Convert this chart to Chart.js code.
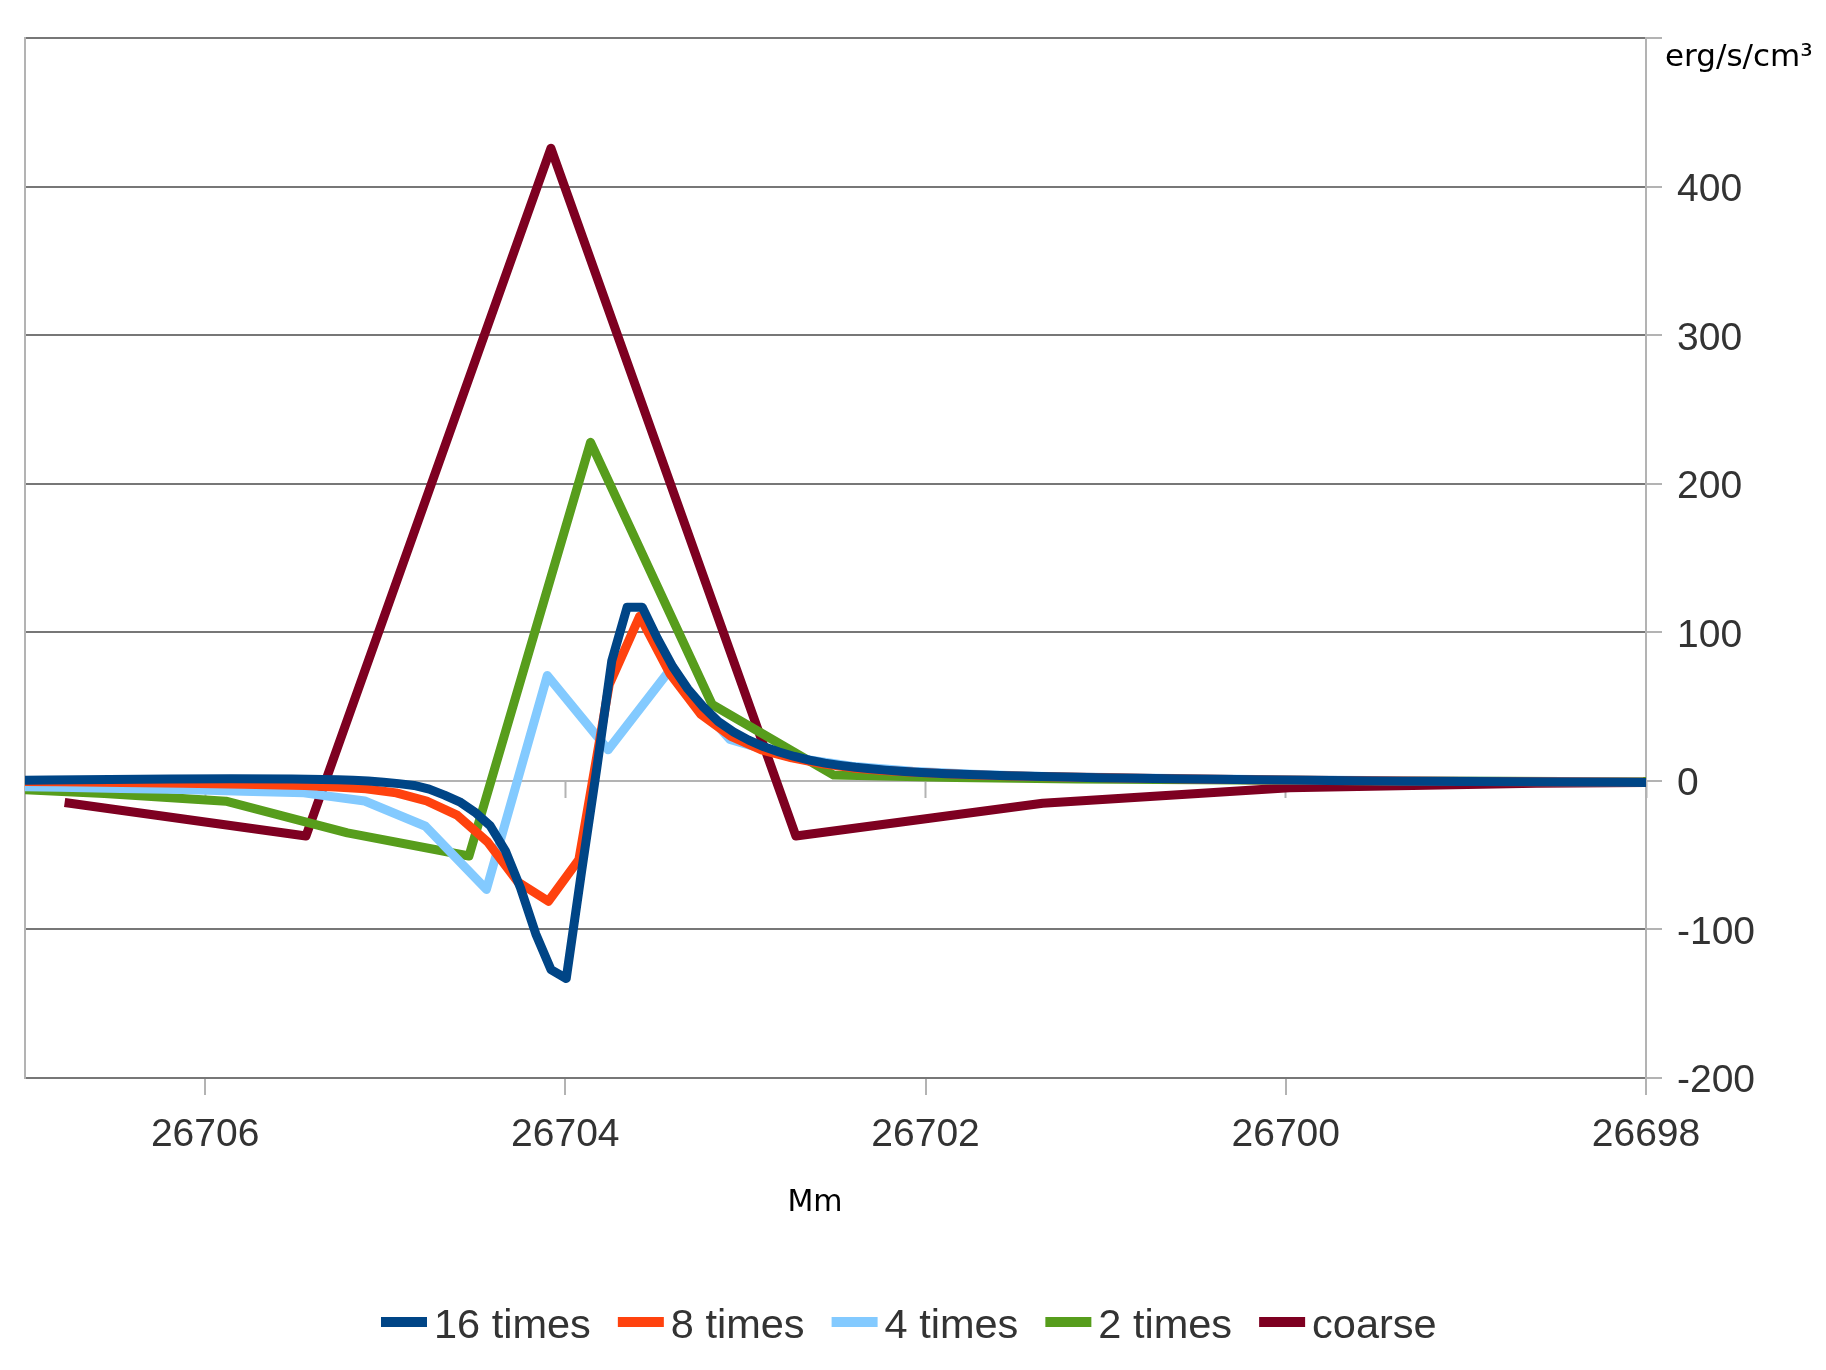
<!DOCTYPE html>
<html><head><meta charset="utf-8">
<script src="https://cdn.jsdelivr.net/npm/chart.js@4"></script>
<style>html,body{margin:0;padding:0;background:#fff}</style>
</head><body><canvas id="c" width="1826" height="1370"></canvas>
<script>
// ---- data ----
const seriesNames = ['16 times', '8 times', '4 times', '2 times', 'coarse'];
const seriesColors = ['#004586', '#ff420e', '#83caff', '#579d1c', '#7e0021'];

const x16 = [26707.037, 26706.868, 26706.53, 26706.192, 26705.854, 26705.516, 26705.263, 26705.178, 26705.094, 26705.009, 26704.925, 26704.840, 26704.756, 26704.671, 26704.587, 26704.502, 26704.418, 26704.333, 26704.249, 26704.164, 26704.080, 26703.995, 26703.910, 26703.826, 26703.742, 26703.657, 26703.573, 26703.489, 26703.404, 26703.320, 26703.235, 26703.151, 26703.066, 26702.982, 26702.897, 26702.813, 26702.728, 26702.644, 26702.559, 26702.475, 26702.390, 26702.306, 26702.221, 26702.137, 26702.052, 26701.968, 26701.883, 26701.545, 26701.038, 26700.531, 26700.024, 26699.348, 26698.672, 26698.165, 26697.996];
const y16 = [0.5, 0.6, 1.0, 1.3, 1.5, 1.3, 0.8, 0.5, 0.0, -0.8, -1.8, -3.0, -5.5, -9.5, -14, -21, -30, -47, -72, -103, -127, -133, -61, 8, 81, 117, 117, 96, 77, 62, 50, 40, 33, 27.5, 23, 19.5, 16.5, 14, 12, 10.5, 9.2, 8.2, 7.3, 6.5, 5.9, 5.3, 4.8, 3.5, 2.2, 1.3, 0.6, -0.2, -0.6, -0.9, -1.0];

const x8 = [26707.136, 26706.798, 26706.46, 26706.122, 26705.784, 26705.446, 26705.277, 26705.108, 26704.939, 26704.77, 26704.601, 26704.432, 26704.263, 26704.094, 26703.925, 26703.756, 26703.587, 26703.418, 26703.249, 26703.08, 26702.911, 26702.742, 26702.573, 26702.404, 26702.235, 26702.066, 26701.728, 26701.39, 26700.714, 26700.038, 26699.362, 26698.686, 26698.01];
const y8 = [-0.3, -0.6, -1.0, -1.5, -2.2, -3.0, -4.0, -5.3, -8, -13.5, -23, -41, -68, -81, -53, 65, 111, 72, 45, 30, 21, 15.5, 11.5, 8.8, 7, 5.8, 4, 3, 1.6, 0.7, 0, -0.5, -0.8];

const x4 = [26707.142, 26706.804, 26706.466, 26706.128, 26705.79, 26705.452, 26705.114, 26704.776, 26704.438, 26704.1, 26703.762, 26703.424, 26703.086, 26702.748, 26702.41, 26702.072, 26701.734, 26701.396, 26700.72, 26700.044, 26699.368, 26698.692, 26698.016];
const y4 = [-3.5, -4.3, -5, -5.8, -7, -8, -13.5, -30.5, -73, 71, 21, 74, 28, 16, 10, 6.5, 4.5, 3.2, 1.8, 0.8, 0.1, -0.4, -0.7];

const x2 = [26707.235, 26706.56, 26705.885, 26705.21, 26704.535, 26703.86, 26703.185, 26702.51, 26701.835, 26701.16, 26700.485, 26699.81, 26699.135, 26698.46, 26697.785];
const y2 = [-4.5, -8.5, -13.6, -35, -50.5, 228, 51.5, 4, 2.3, 1.4, 0.8, 0.3, 0, -0.3, -0.5];

const xc = [26706.78, 26705.44, 26704.08, 26702.72, 26701.35, 26699.98, 26698.61, 26697.24];
const yc = [-14.5, -37, 426, -37, -15, -4.5, -1.5, -0.5];

const xTickValues = [26706, 26704, 26702, 26700, 26698];
const yTickValues = [-200, -100, 0, 100, 200, 300, 400, 500];
const xTitle = 'Mm';
const yUnit = 'erg/s/cm³';

// ---- styling ----
const GRID = '#777777', AXIS = '#b3b3b3', TXT = '#333333';
const SANS = '"Liberation Sans", Arial, sans-serif';
const DEJA = '"DejaVu Sans", sans-serif';

const xsAll = [x16, x8, x4, x2, xc];
const ysAll = [y16, y8, y4, y2, yc];

const datasets = seriesNames.map((name, i) => ({
  label: name,
  data: xsAll[i].map((x, j) => ({ x: x, y: ysAll[i][j] })),
  showLine: true,
  borderColor: seriesColors[i],
  backgroundColor: seriesColors[i],
  borderWidth: 9,
  pointRadius: 0,
  pointHoverRadius: 0,
  borderJoinStyle: 'round',
  tension: 0
}));

const extras = {
  id: 'extras',
  afterDraw(chart) {
    const ctx = chart.ctx;
    ctx.save();
    ctx.fillStyle = '#000';
    ctx.font = '31px ' + DEJA;
    ctx.textBaseline = 'alphabetic';
    ctx.textAlign = 'left';
    ctx.fillText(yUnit, 1665, 66);
    ctx.font = '30px ' + DEJA;
    ctx.textAlign = 'center';
    ctx.fillText(xTitle, 815, 1211);
    // legend
    ctx.font = '41.5px ' + SANS;
    ctx.textAlign = 'left';
    let x = 381;
    chart.data.datasets.forEach((ds) => {
      ctx.fillStyle = ds.borderColor;
      ctx.fillRect(x, 1317, 46, 10);
      x += 46 + 7;
      ctx.fillStyle = TXT;
      ctx.fillText(ds.label, x, 1338);
      x += ctx.measureText(ds.label).width + 27;
    });
    ctx.restore();
  }
};

new Chart(document.getElementById('c'), {
  type: 'scatter',
  data: { datasets: datasets },
  options: {
    responsive: false,
    animation: false,
    devicePixelRatio: 1,
    layout: { padding: { left: 25, top: 38, right: 0, bottom: 0 } },
    plugins: { legend: { display: false }, tooltip: { enabled: false } },
    scales: {
      x: {
        type: 'linear', position: 'bottom', reverse: true, min: 26698, max: 26707,
        afterBuildTicks: s => { s.ticks = xTickValues.map(v => ({ value: v })); },
        afterFit: s => { s.height = 292; },
        grid: { display: true, drawOnChartArea: false, drawTicks: true, tickLength: 17, tickColor: AXIS, tickWidth: 2, lineWidth: 2 },
        border: { display: true, color: GRID, width: 2 },
        ticks: { color: TXT, font: { family: SANS, size: 39 }, padding: 16.5, maxRotation: 0, autoSkip: false, callback: v => String(v) }
      },
      x0: {
        type: 'linear', axis: 'x', position: { y: 0 }, reverse: true, min: 26698, max: 26707,
        afterBuildTicks: s => { s.ticks = xTickValues.map(v => ({ value: v })); },
        grid: { display: true, drawOnChartArea: false, drawTicks: true, tickLength: 16, tickColor: AXIS, tickWidth: 2 },
        border: { display: true, color: AXIS, width: 2 },
        ticks: { display: false }
      },
      y: {
        type: 'linear', position: 'right', min: -200, max: 500,
        afterBuildTicks: s => { s.ticks = yTickValues.map(v => ({ value: v })); },
        afterFit: s => { s.width = 180; },
        grid: { color: c => (c.tick && c.tick.value === 0) ? AXIS : GRID, lineWidth: 2, tickColor: AXIS, tickLength: 16, tickWidth: 2 },
        border: { display: true, color: AXIS, width: 2 },
        ticks: { color: TXT, font: { family: SANS, size: 39 }, padding: 15, labelOffset: 3.5, callback: v => v === 500 ? '' : String(v) }
      },
      yL: {
        type: 'linear', position: 'left', min: -200, max: 500,
        grid: { display: true, drawOnChartArea: false, drawTicks: false },
        border: { display: true, color: AXIS, width: 2 },
        ticks: { display: false }
      }
    }
  },
  plugins: [extras]
});
</script></body></html>
